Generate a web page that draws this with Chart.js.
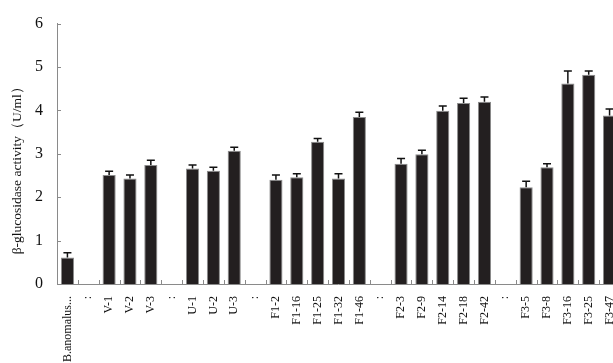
<!DOCTYPE html>
<html>
<head>
<meta charset="utf-8">
<script src="https://cdn.jsdelivr.net/npm/chart.js@4"></script>
<style>
html,body{margin:0;padding:0;background:#fff;overflow:hidden;width:613px;height:363px;}
canvas{display:block;}
</style>
</head>
<body>
<canvas id="c" width="636" height="363"></canvas>
<script>
const categories = ["B.anomalus...", ":", "V-1", "V-2", "V-3", ":", "U-1", "U-2", "U-3", ":", "F1-2", "F1-16", "F1-25", "F1-32", "F1-46", ":", "F2-3", "F2-9", "F2-14", "F2-18", "F2-42", ":", "F3-5", "F3-8", "F3-16", "F3-25", "F3-47"];
const activity = [0.61, null, 2.51, 2.43, 2.74, null, 2.66, 2.61, 3.07, null, 2.40, 2.46, 3.28, 2.43, 3.85, null, 2.77, 2.99, 3.99, 4.17, 4.20, null, 2.23, 2.69, 4.62, 4.82, 3.88];
const errors   = [0.11, null, 0.09, 0.08, 0.11, null, 0.08, 0.08, 0.08, null, 0.11, 0.08, 0.07, 0.11, 0.11, null, 0.12, 0.09, 0.11, 0.11, 0.11, null, 0.14, 0.08, 0.29, 0.09, 0.15];
const yTicks = [0, 1, 2, 3, 4, 5, 6];

const serif = "'Liberation Serif', 'Times New Roman', serif";

const errorBars = {
  id: 'errorBars',
  afterDatasetsDraw(chart) {
    const meta = chart.getDatasetMeta(0);
    const y = chart.scales.y;
    const ctx = chart.ctx;
    ctx.save();
    ctx.strokeStyle = '#111';
    ctx.lineWidth = 1.5;
    meta.data.forEach((el, i) => {
      const v = activity[i];
      if (v === null || v === undefined) return;
      const top = y.getPixelForValue(v);
      const cap = y.getPixelForValue(v + errors[i]);
      ctx.beginPath();
      ctx.moveTo(el.x, top);
      ctx.lineTo(el.x, cap);
      ctx.moveTo(el.x - 4, cap);
      ctx.lineTo(el.x + 4, cap);
      ctx.stroke();
    });
    ctx.restore();
  }
};

const innerTicks = {
  id: 'innerTicks',
  afterDraw(chart) {
    const ctx = chart.ctx;
    const {left, bottom} = chart.chartArea;
    const x = chart.scales.x, y = chart.scales.y;
    ctx.save();
    ctx.strokeStyle = '#8a8a8a';
    ctx.lineWidth = 1;
    yTicks.forEach(t => {
      const py = Math.round(y.getPixelForValue(t)) + 0.5;
      ctx.beginPath(); ctx.moveTo(left, py); ctx.lineTo(left + 4, py); ctx.stroke();
    });
    const n = categories.length;
    const step = x.getPixelForValue(1) - x.getPixelForValue(0);
    for (let i = 0; i < n; i++) {
      const px = Math.round(x.getPixelForValue(i) + step / 2) + 0.5;
      ctx.beginPath(); ctx.moveTo(px, bottom); ctx.lineTo(px, bottom - 4); ctx.stroke();
    }
    ctx.restore();
  }
};

new Chart(document.getElementById('c'), {
  type: 'bar',
  data: {
    labels: categories,
    datasets: [{
      data: activity,
      backgroundColor: '#231f20',
      borderColor: '#8c8c8c',
      borderWidth: 1,
      barPercentage: 0.63,
      categoryPercentage: 1.0
    }]
  },
  options: {
    responsive: false,
    devicePixelRatio: 1,
    animation: false,
    layout: { padding: { left: 0, right: 2, top: 20, bottom: 0 } },
    plugins: { legend: { display: false }, tooltip: { enabled: false } },
    scales: {
      x: {
        grid: { display: false, drawTicks: false },
        border: { display: true, color: '#8a8a8a', width: 1 },
        ticks: {
          autoSkip: false,
          minRotation: 90,
          maxRotation: 90,
          padding: 12,
          color: '#111',
          font: { family: serif, size: 12 }
        },
        afterFit(scale) { scale.height = 79; }
      },
      y: {
        min: 0,
        max: 6,
        afterBuildTicks(scale) { scale.ticks = yTicks.map(v => ({ value: v })); },
        grid: { display: false, drawTicks: false },
        border: { display: true, color: '#8a8a8a', width: 1 },
        ticks: {
          padding: 14,
          color: '#111',
          font: { family: serif, size: 16 }
        },
        title: {
          display: true,
          text: 'β-glucosidase activity（U/ml）        ',
          color: '#111',
          font: { family: serif, size: 13.5 },
          padding: { top: 9, bottom: 0 }
        },
        afterFit(scale) { scale.width = 57; }
      }
    }
  },
  plugins: [errorBars, innerTicks]
});
</script>
</body>
</html>
